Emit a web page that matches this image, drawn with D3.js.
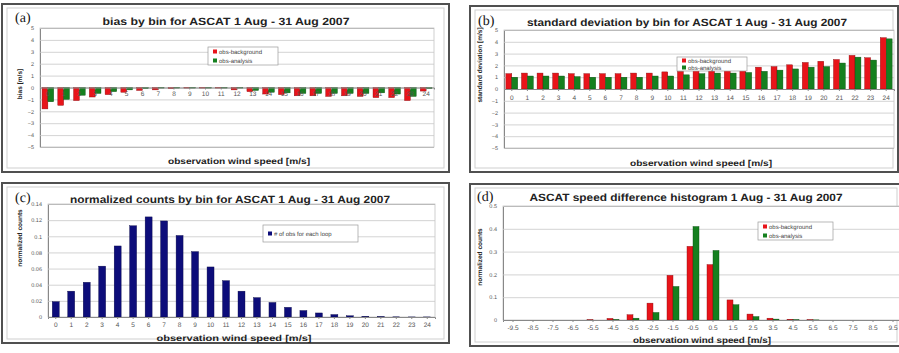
<!DOCTYPE html>
<html>
<head>
<meta charset="utf-8">
<script src="https://cdn.jsdelivr.net/npm/d3@7"></script>
<style>
  body { margin: 0; background: #fff; }
  svg { display: block; font-family: "Liberation Sans", Arial, sans-serif; text-rendering: geometricPrecision; }
</style>
</head>
<body>
<svg id="chart" width="899" height="353"></svg>
<script>
// wind speed bins 0..24
const speedBins = d3.range(0, 25).map(String);
// speed difference bins -9.5..9.5
const diffBins = ["-9.5","-8.5","-7.5","-6.5","-5.5","-4.5","-3.5","-2.5","-1.5","-0.5",
                  "0.5","1.5","2.5","3.5","4.5","5.5","6.5","7.5","8.5","9.5"];

const biasBackground = [-1.8,-1.5,-1.1,-0.8,-0.6,-0.4,-0.25,-0.2,-0.1,-0.05,-0.05,-0.05,-0.2,
                        -0.35,-0.55,-0.6,-0.7,-0.7,-0.75,-0.7,-0.75,-0.85,-0.85,-1.1,-0.3];
const biasAnalysis   = [-1.2,-1.0,-0.65,-0.5,-0.35,-0.2,-0.1,-0.05,-0.05,-0.05,-0.05,-0.05,-0.05,
                        -0.25,-0.4,-0.45,-0.5,-0.5,-0.5,-0.5,-0.5,-0.45,-0.55,-0.75,-0.1];

const stdBackground = [1.3,1.35,1.35,1.35,1.3,1.3,1.3,1.3,1.35,1.35,1.45,1.5,1.6,1.7,1.75,1.75,
                       1.85,1.9,2.05,2.25,2.35,2.5,2.85,2.65,4.35];
const stdAnalysis   = [1.0,1.1,1.1,1.1,1.05,1.0,1.0,1.0,1.0,1.1,1.1,1.2,1.3,1.35,1.35,1.4,
                       1.5,1.6,1.7,1.85,1.9,2.2,2.7,2.45,4.25];

const countsByBin = [0.019,0.032,0.043,0.063,0.088,0.113,0.124,0.119,0.101,0.081,0.062,0.045,
                     0.032,0.024,0.018,0.012,0.008,0.005,0.003,0.0015,0.0008,0.0005,0.0002,0.0001,0.0001];

const diffBackground = [0,0,0,0,0.001,0.007,0.023,0.074,0.196,0.323,0.243,0.088,0.026,0.008,
                        0.003,0.001,0,0,0,0];
const diffAnalysis   = [0,0,0,0,0,0.002,0.008,0.033,0.147,0.41,0.305,0.067,0.015,0.004,
                        0.001,0.0005,0,0,0,0];

const biasTicks = d3.range(-5, 6);
const countTicks = [0, 0.02, 0.04, 0.06, 0.08, 0.1, 0.12, 0.14];
const diffTicks = [0, 0.1, 0.2, 0.3, 0.4, 0.5];

const RED = "#e8141a", GREEN = "#15801f", NAVY = "#0d0d7a";

const svg = d3.select("#chart");

function drawPanel(p) {
  const g = svg.append("g");

  // outer frame and inner chart area
  g.append("rect").attr("x", p.frame[0]).attr("y", p.frame[1])
    .attr("width", p.frame[2]).attr("height", p.frame[3])
    .attr("fill", "#fff").attr("stroke", "#505050").attr("stroke-width", 2);
  g.append("rect").attr("x", p.frame[0] + 5).attr("y", p.frame[1] + 4)
    .attr("width", p.frame[2] - 10).attr("height", p.frame[3] - 8)
    .attr("fill", "none").attr("stroke", "#cfcfcf").attr("stroke-width", 1);

  const x = d3.scaleBand().domain(p.categories).range([p.plot[0], p.plot[1]]).paddingInner(p.pad).paddingOuter(p.pad / 2);
  const y = d3.scaleLinear().domain(p.yDomain).range([p.plot[3], p.plot[2]]);
  const inner = d3.scaleBand().domain(p.series.map(s => s.name)).range([0, x.bandwidth()]);

  // plot area + gridlines
  g.append("rect").attr("x", p.plot[0]).attr("y", p.plot[2])
    .attr("width", p.plot[1] - p.plot[0]).attr("height", p.plot[3] - p.plot[2])
    .attr("fill", "#fff").attr("stroke", "#c4c4c4").attr("stroke-width", 0.8);

  g.append("g").attr("transform", `translate(${p.plot[0]},0)`)
    .call(d3.axisLeft(y).tickValues(p.yTicks).tickSize(-(p.plot[1] - p.plot[0])).tickPadding(6)
      .tickFormat(p.yFormat))
    .call(a => a.select(".domain").attr("stroke", "#888"))
    .call(a => a.selectAll(".tick line").attr("stroke", "#c8c8c8").attr("stroke-width", 0.8))
    .call(a => a.selectAll(".tick text").attr("fill", "#555").attr("font-size", 5.5));

  // bars
  p.series.forEach(s => {
    g.append("g").selectAll("rect").data(s.values).join("rect")
      .attr("x", (d, i) => x(p.categories[i]) + inner(s.name))
      .attr("width", inner.bandwidth())
      .attr("y", d => y(Math.max(0, d)))
      .attr("height", d => Math.abs(y(d) - y(0)))
      .attr("fill", s.color)
      .attr("stroke", d3.color(s.color).darker(1.5)).attr("stroke-width", 0.4);
  });

  // category axis, crossing at zero
  g.append("g").attr("transform", `translate(0,${y(0)})`)
    .call(d3.axisBottom(x).tickSize(2).tickPadding(p.xPad))
    .call(a => a.select(".domain").attr("stroke", "#888"))
    .call(a => a.selectAll(".tick line").attr("stroke", "#888"))
    .call(a => a.selectAll(".tick text").attr("fill", "#555").attr("font-size", 6.5));

  // texts
  g.append("text").attr("x", p.title[1]).attr("y", p.title[2]).attr("text-anchor", "middle")
    .attr("font-size", 10.5).attr("font-weight", "bold").attr("fill", "#222")
    .attr("textLength", p.title[3]).attr("lengthAdjust", "spacingAndGlyphs").text(p.title[0]);
  g.append("text").attr("x", p.xLabel[1]).attr("y", p.xLabel[2]).attr("text-anchor", "middle")
    .attr("font-size", 8.5).attr("font-weight", "bold").attr("fill", "#222")
    .attr("textLength", p.xLabel[3]).attr("lengthAdjust", "spacingAndGlyphs").text(p.xLabel[0]);
  g.append("text").attr("transform", `translate(${p.yLabel[1]},${p.yLabel[2]}) rotate(-90)`)
    .attr("text-anchor", "middle").attr("font-size", 6.5).attr("font-weight", "bold").attr("fill", "#222")
    .text(p.yLabel[0]);
  g.append("text").attr("x", p.letter[1]).attr("y", p.letter[2])
    .attr("font-family", "Liberation Serif, Times New Roman, serif").attr("font-size", 14).attr("fill", "#111")
    .text(p.letter[0]);

  // legend
  const [lx, ly, lw, lh] = p.legend;
  const lg = g.append("g");
  lg.append("rect").attr("x", lx).attr("y", ly).attr("width", lw).attr("height", lh)
    .attr("fill", "#fff").attr("stroke", "#9a9a9a").attr("stroke-width", 0.7);
  const step = lh / p.series.length;
  p.series.forEach((s, i) => {
    const cy = ly + step * (i + 0.5);
    lg.append("rect").attr("x", lx + 5).attr("y", cy - 2).attr("width", 4).attr("height", 4).attr("fill", s.color);
    lg.append("text").attr("x", lx + 11).attr("y", cy + 2).attr("font-size", 6).attr("fill", "#444").text(s.name);
  });
}

const pairA = [{ name: "obs-background", values: biasBackground, color: RED },
               { name: "obs-analysis", values: biasAnalysis, color: GREEN }];
const pairB = [{ name: "obs-background", values: stdBackground, color: RED },
               { name: "obs-analysis", values: stdAnalysis, color: GREEN }];

drawPanel({
  frame: [2, 4, 447, 168], plot: [40, 434, 28, 147],
  categories: speedBins, series: pairA, pad: 0.26, xPad: 2,
  yDomain: [-5, 5], yTicks: biasTicks, yFormat: d3.format("d"),
  title: ["bias by bin for ASCAT 1 Aug - 31 Aug 2007", 226, 25, 247],
  xLabel: ["observation wind speed [m/s]", 239, 164, 142],
  yLabel: ["bias [m/s]", 22, 84], letter: ["(a)", 15, 22],
  legend: [208, 47, 70, 18]
});

drawPanel({
  frame: [470, 6, 428, 166], plot: [504, 894, 30, 148],
  categories: speedBins, series: pairB, pad: 0.24, xPad: 4,
  yDomain: [-5, 5], yTicks: biasTicks, yFormat: d3.format("d"),
  title: ["standard deviation by bin for ASCAT 1 Aug - 31 Aug 2007", 687, 26, 320],
  xLabel: ["observation wind speed [m/s]", 701, 166, 142],
  yLabel: ["standard deviation [m/s]", 482, 65], letter: ["(b)", 478, 25],
  legend: [677, 57, 70, 14]
});

drawPanel({
  frame: [2, 183, 447, 160], plot: [48, 435, 204, 317],
  categories: speedBins, series: [{ name: "# of obs for each loop", values: countsByBin, color: NAVY }],
  pad: 0.55, xPad: 3,
  yDomain: [0, 0.14], yTicks: countTicks, yFormat: d => d === 0 ? "0" : d3.format("")(+d.toFixed(2)),
  title: ["normalized counts by bin for ASCAT 1 Aug - 31 Aug 2007", 230, 203, 320],
  xLabel: ["observation wind speed [m/s]", 234, 341, 155],
  yLabel: ["normalized counts", 22, 238], letter: ["(c)", 15, 202],
  legend: [263, 225, 95, 17]
});

drawPanel({
  frame: [470, 184, 432, 162], plot: [503, 903, 206, 320],
  categories: diffBins, series: [{ name: "obs-background", values: diffBackground, color: RED },
                                 { name: "obs-analysis", values: diffAnalysis, color: GREEN }],
  pad: 0.4, xPad: 3,
  yDomain: [0, 0.5], yTicks: diffTicks, yFormat: d => d === 0 ? "0" : d3.format("")(+d.toFixed(1)),
  title: ["ASCAT speed difference histogram 1 Aug - 31 Aug 2007", 686, 201, 313],
  xLabel: ["observation wind speed [m/s]", 702, 343, 138],
  yLabel: ["normalized counts", 482, 257], letter: ["(d)", 477, 201],
  legend: [758, 222, 75, 18]
});
</script>
</body>
</html>
